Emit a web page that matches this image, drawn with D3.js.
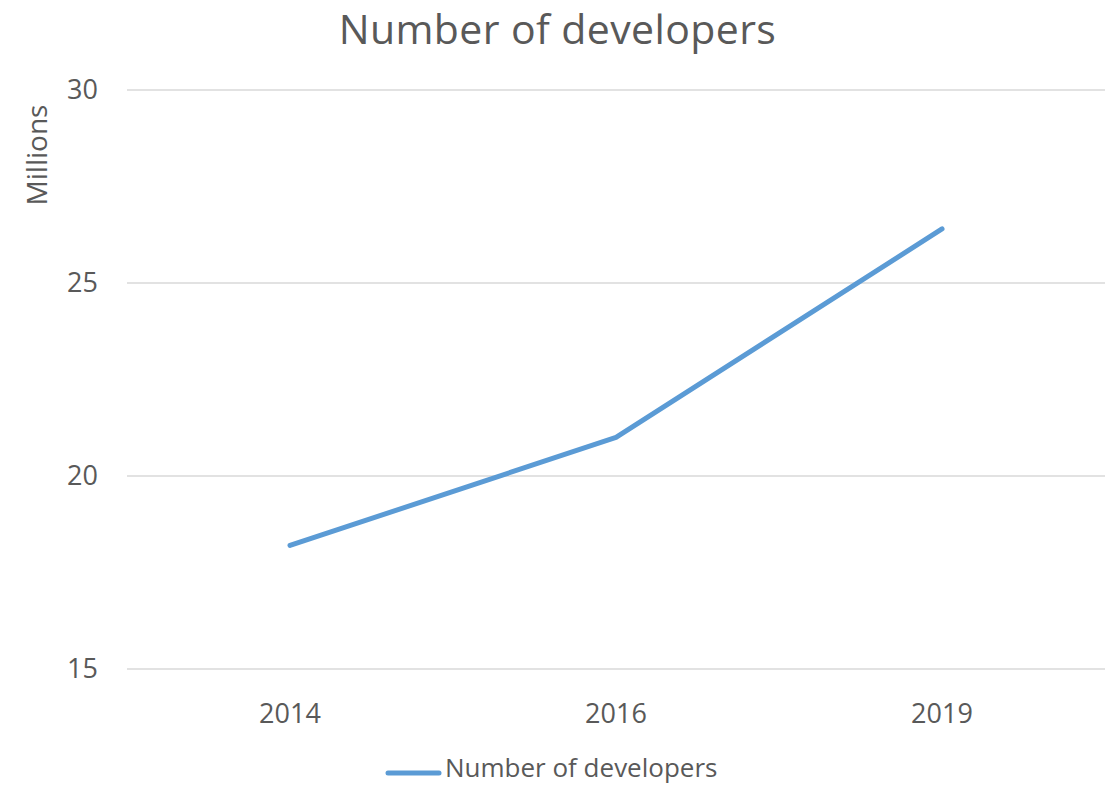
<!DOCTYPE html>
<html>
<head>
<meta charset="utf-8">
<script src="https://cdn.jsdelivr.net/npm/d3@7"></script>
<style>
  body { margin: 0; background: #fff; }
  svg text { font-family: "Open Sans", "Liberation Sans", sans-serif; fill: #595959; }
</style>
</head>
<body>
<figure id="chart" style="margin:0"></figure>
<script>
const years = ["2014", "2016", "2019"];
const developers = [18.2, 21.0, 26.4];
const yTicks = [15, 20, 25, 30];
const seriesName = "Number of developers";

const width = 1115, height = 788;
const margin = {top: 90, right: 10, bottom: 119, left: 127};

const svg = d3.select("figure#chart")
  .append("svg")
  .attr("width", width)
  .attr("height", height);

const x = d3.scaleBand()
  .domain(years)
  .range([margin.left, width - margin.right]);

const y = d3.scaleLinear()
  .domain([15, 30])
  .range([height - margin.bottom, margin.top]);

// gridlines
svg.append("g")
  .selectAll("line")
  .data(yTicks)
  .enter()
  .append("line")
  .attr("x1", margin.left)
  .attr("x2", width - margin.right)
  .attr("y1", d => y(d))
  .attr("y2", d => y(d))
  .attr("stroke", "#d9d9d9")
  .attr("stroke-width", 1.3);

// y tick labels
svg.append("g")
  .selectAll("text")
  .data(yTicks)
  .enter()
  .append("text")
  .attr("x", 98)
  .attr("y", d => y(d))
  .attr("dy", "0.35em")
  .attr("text-anchor", "end")
  .style("font-size", "27px")
  .text(d => d);

// x tick labels
svg.append("g")
  .selectAll("text")
  .data(years)
  .enter()
  .append("text")
  .attr("x", d => x(d) + x.bandwidth() / 2)
  .attr("y", 723)
  .attr("text-anchor", "middle")
  .style("font-size", "27px")
  .text(d => d);

// line
const line = d3.line()
  .x((d, i) => x(years[i]) + x.bandwidth() / 2)
  .y(d => y(d));

svg.append("path")
  .datum(developers)
  .attr("d", line)
  .attr("fill", "none")
  .attr("stroke", "#5b9bd5")
  .attr("stroke-width", 5)
  .attr("stroke-linejoin", "round")
  .attr("stroke-linecap", "round");

// title
svg.append("text")
  .attr("x", width / 2)
  .attr("y", 44)
  .attr("text-anchor", "middle")
  .style("font-size", "41px")
  .style("letter-spacing", "0.4px")
  .text("Number of developers");

// y axis label
svg.append("text")
  .attr("transform", "translate(47,155) rotate(-90)")
  .attr("text-anchor", "middle")
  .style("font-size", "28px")
  .text("Millions");

// legend
const legend = svg.append("g");
legend.append("line")
  .attr("x1", 388).attr("x2", 439)
  .attr("y1", 773).attr("y2", 773)
  .attr("stroke", "#5b9bd5")
  .attr("stroke-width", 5)
  .attr("stroke-linecap", "round");
legend.append("text")
  .attr("x", 445)
  .attr("y", 777)
  .style("font-size", "26px")
  .text(seriesName);
</script>
</body>
</html>
